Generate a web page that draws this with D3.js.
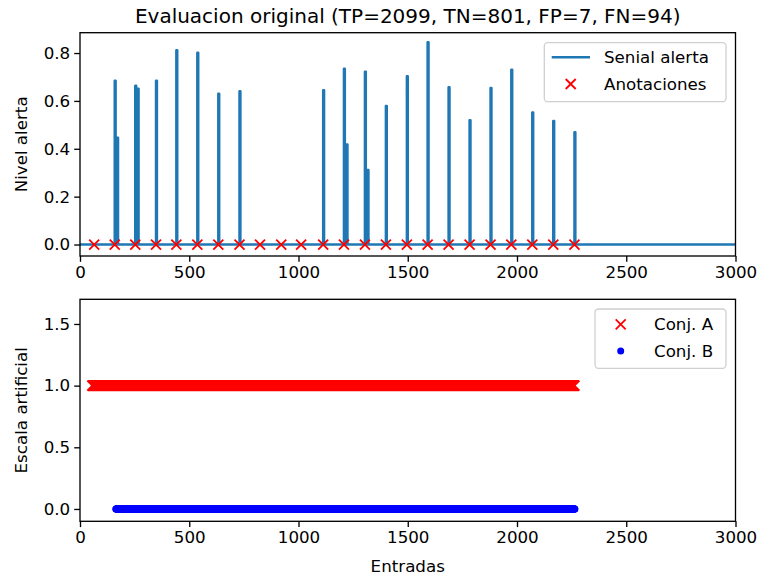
<!DOCTYPE html>
<html>
<head>
<meta charset="utf-8">
<script src="https://cdn.jsdelivr.net/npm/d3@7"></script>
<style>
  html, body { margin: 0; padding: 0; background: #fff; }
  svg { display: block; font-family: "DejaVu Sans", sans-serif; }
</style>
</head>
<body>
<svg id="chart" width="760" height="579"></svg>
<script>
// Alert signal: main pulse positions (entry index) and peak levels
const pulseX = [159, 253, 348, 441, 537, 633, 730, 1113, 1208, 1304, 1400, 1496, 1591, 1687, 1783, 1879, 1974, 2070, 2166, 2263];
const pulseY = [0.684, 0.663, 0.684, 0.812, 0.801, 0.630, 0.640, 0.645, 0.734, 0.722, 0.579, 0.703, 0.845, 0.657, 0.519, 0.654, 0.730, 0.552, 0.516, 0.469];
// Smaller trailing pulses right after some events
const subPulseX = [170, 264, 1220, 1316];
const subPulseY = [0.446, 0.651, 0.418, 0.311];
// Annotated event positions
const annotX = [65, 159, 253, 348, 441, 537, 633, 730, 824, 921, 1012, 1113, 1208, 1304, 1400, 1496, 1591, 1687, 1783, 1879, 1974, 2070, 2166, 2263];
// Entry spans covered by each set (first, last entry)
const conjASpan = [56, 2263];
const conjBSpan = [164, 2265];

const xTicks = [0, 500, 1000, 1500, 2000, 2500, 3000];
const yTicksTop = [0.0, 0.2, 0.4, 0.6, 0.8];
const yTicksBottom = [0.0, 0.5, 1.0, 1.5];

const BLUE = "#1f77b4";
const fontSize = 16.7;

const svg = d3.select("#chart");
const left = 80, right = 735.5;

const x = d3.scaleLinear().domain([0, 3000]).range([left, right]);
const yTop = d3.scaleLinear().domain([-0.048, 0.885]).range([256, 32.7]);
const yBot = d3.scaleLinear().domain([-0.1, 1.7]).range([521.3, 299.3]);

function styleAxis(g) {
  g.selectAll("path.domain").remove();
  g.selectAll(".tick line").attr("stroke", "#000").attr("stroke-width", 1.33);
  g.selectAll(".tick text").attr("fill", "#000").attr("font-size", fontSize)
    .attr("font-family", "DejaVu Sans, sans-serif");
}

function frame(yScale, id) {
  const [y1, y0] = yScale.range();
  svg.append("clipPath").attr("id", id).append("rect")
    .attr("x", left).attr("y", y0).attr("width", right - left).attr("height", y1 - y0);
  return { y0, y1 };
}

function drawSpines(y0, y1) {
  svg.append("rect").attr("x", left).attr("y", y0).attr("width", right - left).attr("height", y1 - y0)
    .attr("fill", "none").attr("stroke", "#000").attr("stroke-width", 1.33);
}

function xMarker(sel, cx, cy, color) {
  const s = 5;
  sel.append("path")
    .attr("d", `M${cx - s},${cy - s}L${cx + s},${cy + s}M${cx - s},${cy + s}L${cx + s},${cy - s}`)
    .attr("stroke", color).attr("stroke-width", 1.8).attr("fill", "none");
}

function legendBox(x0, y0, w, h) {
  svg.append("rect").attr("x", x0).attr("y", y0).attr("width", w).attr("height", h)
    .attr("rx", 3.5).attr("fill", "#fff").attr("fill-opacity", 0.8)
    .attr("stroke", "#d0d0d0").attr("stroke-width", 1.3);
}

// ---------- Top panel: alert signal ----------
const ft = frame(yTop, "clipTop");

// Build the signal as narrow rectangular pulses on a zero baseline
const pulses = pulseX.map((px, i) => ({ x: px, y: pulseY[i] }))
  .concat(subPulseX.map((px, i) => ({ x: px, y: subPulseY[i] })))
  .sort((a, b) => a.x - b.x);
const w = 4;
const signal = [[0, 0]];
pulses.forEach(p => {
  signal.push([p.x, 0], [p.x, p.y], [p.x + w, p.y], [p.x + w, 0]);
});
signal.push([3000, 0]);

svg.append("path")
  .attr("clip-path", "url(#clipTop)")
  .attr("d", d3.line().x(d => x(d[0])).y(d => yTop(d[1]))(signal))
  .attr("fill", "none").attr("stroke", BLUE).attr("stroke-width", 2.5)
  .attr("stroke-linejoin", "round").attr("stroke-linecap", "butt");

const annG = svg.append("g");
annotX.forEach(a => xMarker(annG, x(a), yTop(0), "red"));

svg.append("g").attr("transform", `translate(0,${ft.y1})`)
  .call(d3.axisBottom(x).tickValues(xTicks).tickFormat(d3.format("d")).tickSize(5.8).tickPadding(4))
  .call(styleAxis);
svg.append("g").attr("transform", `translate(${left},0)`)
  .call(d3.axisLeft(yTop).tickValues(yTicksTop).tickFormat(d3.format(".1f")).tickSize(5.8).tickPadding(4))
  .call(styleAxis);
drawSpines(ft.y0, ft.y1);

svg.append("text").attr("x", (left + right) / 2).attr("y", 23)
  .attr("text-anchor", "middle").attr("font-size", 20)
  .text("Evaluacion original (TP=2099, TN=801, FP=7, FN=94)");
svg.append("text").attr("transform", `translate(27,${(ft.y0 + ft.y1) / 2}) rotate(-90)`)
  .attr("text-anchor", "middle").attr("font-size", fontSize).text("Nivel alerta");

legendBox(544.3, 42.7, 181.7, 59);
svg.append("line").attr("x1", 551.7).attr("x2", 590).attr("y1", 57.3).attr("y2", 57.3)
  .attr("stroke", BLUE).attr("stroke-width", 2.5);
svg.append("text").attr("x", 604).attr("y", 63.3).attr("font-size", fontSize).text("Senial alerta");
xMarker(svg, 570.7, 84, "red");
svg.append("text").attr("x", 604).attr("y", 90).attr("font-size", fontSize).text("Anotaciones");

// ---------- Bottom panel: sets A and B ----------
const fb = frame(yBot, "clipBot");

const setA = d3.range(conjASpan[0], conjASpan[1] + 1);
const setB = d3.range(conjBSpan[0], conjBSpan[1] + 1);

const gA = svg.append("g").attr("clip-path", "url(#clipBot)");
gA.append("path")
  .attr("d", setA.map(v => {
    const cx = x(v), cy = yBot(1), s = 5;
    return `M${cx - s},${cy - s}L${cx + s},${cy + s}M${cx - s},${cy + s}L${cx + s},${cy - s}`;
  }).join(""))
  .attr("stroke", "red").attr("stroke-width", 1.8).attr("fill", "none");

svg.append("g").attr("clip-path", "url(#clipBot)")
  .selectAll("circle").data(setB).join("circle")
  .attr("cx", d => x(d)).attr("cy", yBot(0)).attr("r", 3.5).attr("fill", "blue");

svg.append("g").attr("transform", `translate(0,${fb.y1})`)
  .call(d3.axisBottom(x).tickValues(xTicks).tickFormat(d3.format("d")).tickSize(5.8).tickPadding(4))
  .call(styleAxis);
svg.append("g").attr("transform", `translate(${left},0)`)
  .call(d3.axisLeft(yBot).tickValues(yTicksBottom).tickFormat(d3.format(".1f")).tickSize(5.8).tickPadding(4))
  .call(styleAxis);
drawSpines(fb.y0, fb.y1);

svg.append("text").attr("transform", `translate(27,${(fb.y0 + fb.y1) / 2}) rotate(-90)`)
  .attr("text-anchor", "middle").attr("font-size", fontSize).text("Escala artificial");
svg.append("text").attr("x", (left + right) / 2).attr("y", 572)
  .attr("text-anchor", "middle").attr("font-size", fontSize).text("Entradas");

legendBox(595, 309, 131, 59.3);
xMarker(svg, 620.7, 324.3, "red");
svg.append("text").attr("x", 654).attr("y", 330.3).attr("font-size", fontSize).text("Conj. A");
svg.append("circle").attr("cx", 620.7).attr("cy", 351).attr("r", 3.5).attr("fill", "blue");
svg.append("text").attr("x", 654).attr("y", 357).attr("font-size", fontSize).text("Conj. B");
</script>
</body>
</html>
